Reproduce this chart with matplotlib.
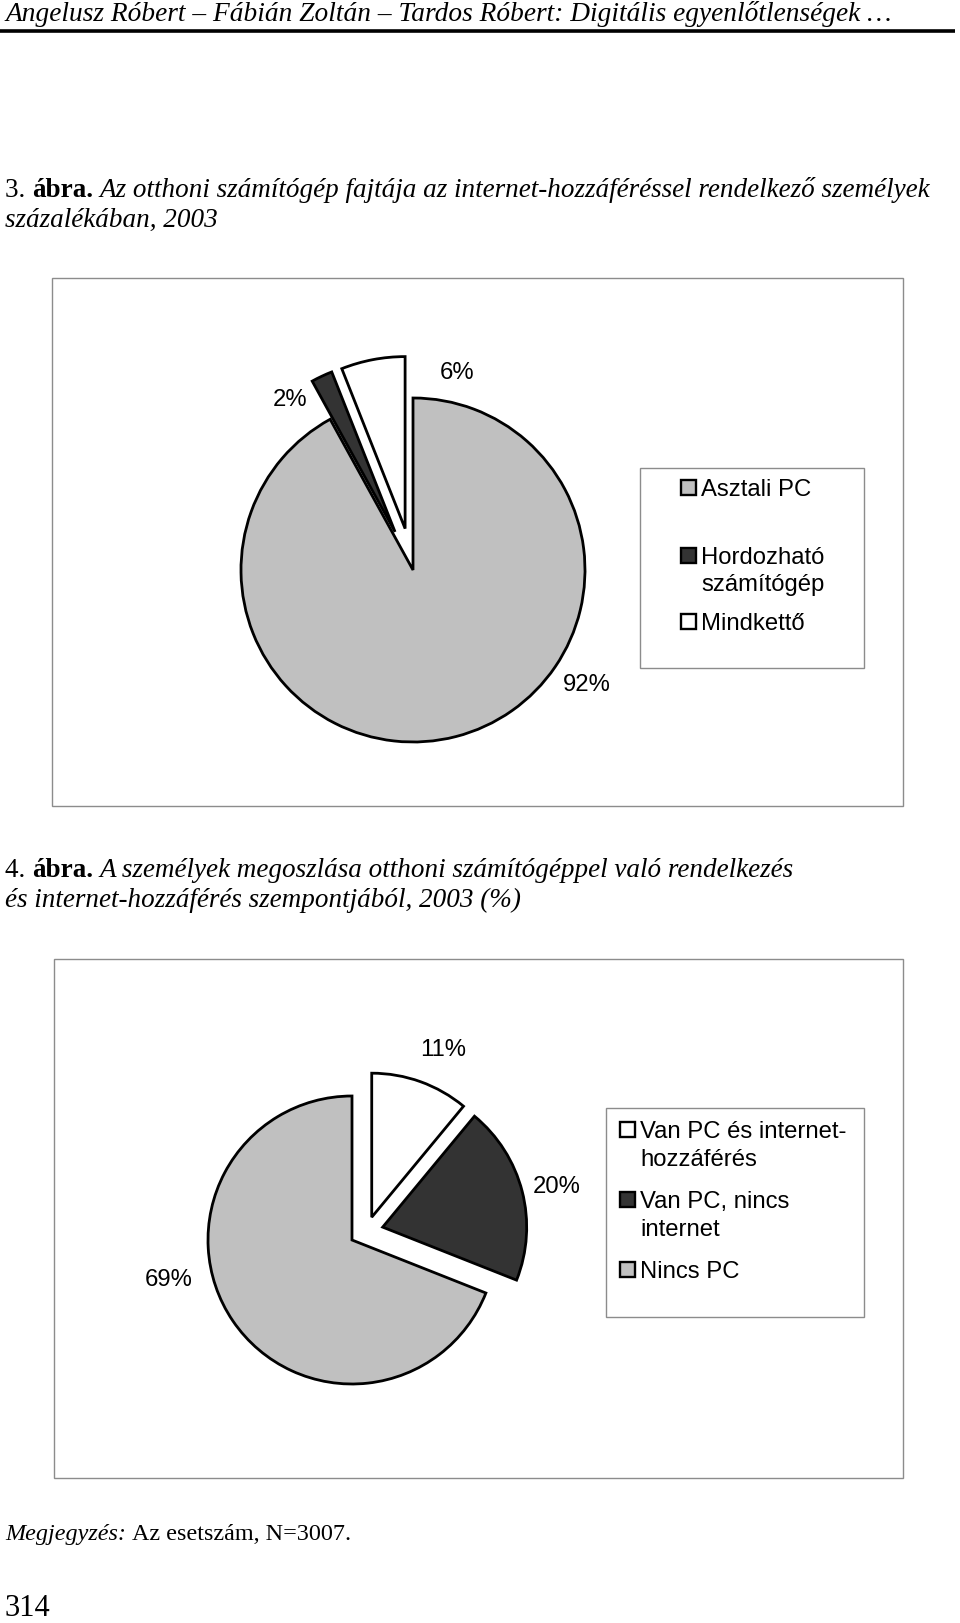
import matplotlib
matplotlib.use('Agg')
import matplotlib.pyplot as plt
from matplotlib.patches import Rectangle

# ---- data ----
pc_types = ['Asztali PC', 'Hordozható\nszámítógép', 'Mindkettő']
pc_share = [92, 2, 6]

access_groups = ['Van PC és internet-\nhozzáférés', 'Van PC, nincs\ninternet', 'Nincs PC']
access_share = [11, 20, 69]

# ---- styles / layout ----
W, H = 960, 1623
GRAY, DARK, WHITE = '#c0c0c0', '#333333', '#ffffff'
pc_colors = [GRAY, DARK, WHITE]
access_colors = [WHITE, DARK, GRAY]
SERIF = 'Liberation Serif'
SANS = 'Liberation Sans'
CHART_FS = 17.2
CAP_FS = 19.5
NOTE_FS = 17.4

fig = plt.figure(figsize=(W / 100, H / 100), dpi=100)
page = fig.add_axes([0, 0, 1, 1])
page.set_xlim(0, W)
page.set_ylim(H, 0)
page.axis('off')
renderer = fig.canvas.get_renderer()


def seg_text(x, y, parts, size):
    """Draw text pieces with different styles one after another on a line."""
    for s, style, weight in parts:
        t = page.text(x, y, s, family=SERIF, style=style, weight=weight,
                      fontsize=size, va='baseline', ha='left')
        x += t.get_window_extent(renderer).width
    return x


def space_w(size, style='normal'):
    a = page.text(0, 0, 'x x', family=SERIF, style=style, fontsize=size)
    b = page.text(0, 0, 'xx', family=SERIF, style=style, fontsize=size)
    w = a.get_window_extent(renderer).width - b.get_window_extent(renderer).width
    a.remove()
    b.remove()
    return w


# header
page.text(5, 21, 'Angelusz Róbert – Fábián Zoltán – Tardos Róbert: Digitális egyenlőtlenségek …',
          family=SERIF, style='italic', fontsize=19.7, va='baseline')
page.plot([0, 955], [31, 31], color='black', lw=2.6, solid_capstyle='butt')

sp = space_w(CAP_FS)
x = seg_text(5, 197, [('3. ', 'normal', 'normal'), ('ábra.', 'normal', 'bold')], CAP_FS)
seg_text(x + sp, 197, [('Az otthoni számítógép fajtája az internet-hozzáféréssel rendelkező személyek',
                        'italic', 'normal')], CAP_FS)
seg_text(5, 227, [('százalékában, 2003', 'italic', 'normal')], CAP_FS)

x = seg_text(5, 877, [('4. ', 'normal', 'normal'), ('ábra.', 'normal', 'bold')], CAP_FS)
seg_text(x + sp, 877, [('A személyek megoszlása otthoni számítógéppel való rendelkezés',
                        'italic', 'normal')], CAP_FS)
seg_text(5, 907, [('és internet-hozzáférés szempontjából, 2003 (%)', 'italic', 'normal')], CAP_FS)

# footnote and page number
x = seg_text(5, 1540, [('Megjegyzés:', 'italic', 'normal')], NOTE_FS)
seg_text(x + space_w(NOTE_FS), 1540, [('Az esetszám, N=3007.', 'normal', 'normal')], NOTE_FS)
page.text(4, 1616, '314', family=SERIF, fontsize=22, va='baseline')

# chart frames
for (x0, y0, x1, y1) in [(52, 278, 903, 806), (54, 959, 903, 1478)]:
    page.add_patch(Rectangle((x0, y0), x1 - x0, y1 - y0, fill=False,
                             edgecolor='#8c8c8c', lw=1.0))


def draw_pie(values, colors, cx, cy, r, explode, shift=None):
    ax = fig.add_axes([(cx - 1.5 * r) / W, 1 - (cy + 1.5 * r) / H, 3 * r / W, 3 * r / H])
    wedges, _ = ax.pie(values, colors=colors, explode=explode, startangle=90,
                       counterclock=False,
                       wedgeprops=dict(edgecolor='black', linewidth=2.0, joinstyle='miter'))
    # small extra nudge (in pixels) of exploded wedges
    if shift:
        for w, (dx, dy) in zip(wedges, shift):
            c = w.center
            w.set_center((c[0] + dx / r, c[1] - dy / r))
    ax.set_xlim(-1.5, 1.5)
    ax.set_ylim(-1.5, 1.5)
    ax.set_aspect('equal')
    ax.axis('off')
    return ax


def draw_legend(labels, colors, box, mx, ys, gap):
    x0, y0, x1, y1 = box
    page.add_patch(Rectangle((x0, y0), x1 - x0, y1 - y0, facecolor='white',
                             edgecolor='#8c8c8c', lw=1.0, zorder=3))
    cap = 0.36 * CHART_FS * 100 / 72
    for lab, col, y in zip(labels, colors, ys):
        page.add_patch(Rectangle((mx, y - 7.5), 15, 15, facecolor=col, edgecolor='black',
                                 lw=1.7, zorder=4))
        for k, line in enumerate(lab.split('\n')):
            page.text(mx + 20, y + cap + k * gap, line, family=SANS, fontsize=CHART_FS,
                      va='baseline', zorder=5)


# chart 1
draw_pie(pc_share, pc_colors, 413, 570, 172, [0, 0.245, 0.245])
for v, (lx, ly) in zip(pc_share, [(587, 685), (290, 400), (457, 373)]):
    page.text(lx, ly, f'{v}%', family=SANS, fontsize=CHART_FS, ha='center', va='center')
draw_legend(pc_types, pc_colors, (640, 468, 864, 668), 681, [487, 555, 621], 27)

# chart 2
draw_pie(access_share, access_colors, 352, 1240, 144, [0.22, 0.22, 0],
         shift=[(9, 7), (0, -5), (0, 0)])
for v, (lx, ly) in zip(access_share, [(443, 1050), (557, 1187), (169, 1280)]):
    page.text(lx, ly, f'{v}%', family=SANS, fontsize=CHART_FS, ha='center', va='center')
draw_legend(access_groups, access_colors, (606, 1108, 864, 1317), 620,
            [1129, 1199, 1269], 28)

fig.savefig('out.png', dpi=100)
